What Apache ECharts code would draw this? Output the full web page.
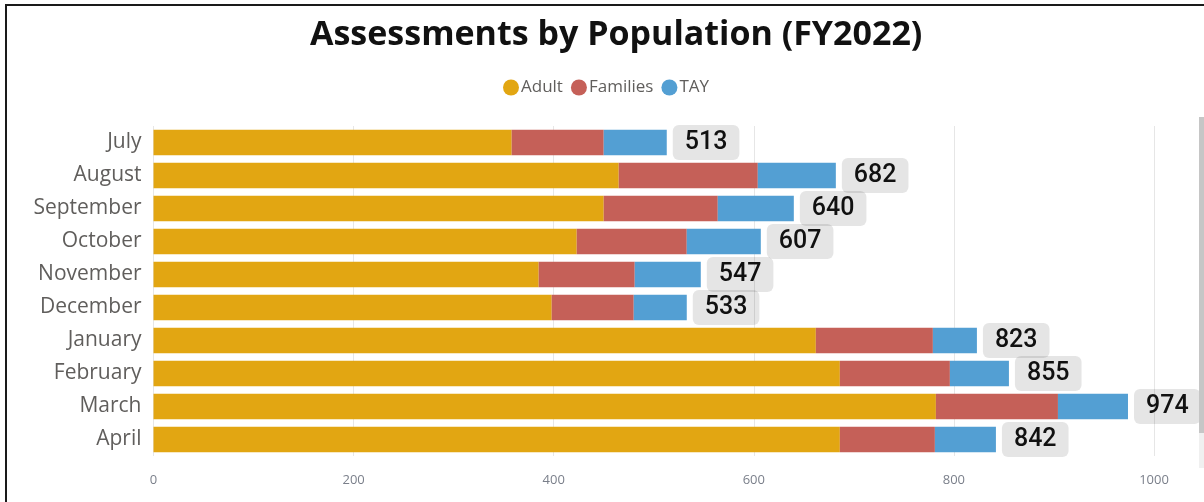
<!DOCTYPE html>
<html>
<head>
<meta charset="utf-8">
<script src="https://cdn.jsdelivr.net/npm/echarts@6/dist/echarts.min.js"></script>
<style>html,body{margin:0;padding:0;background:#fff}#c{width:1204px;height:502px}</style>
</head>
<body>
<div id="c"></div>
<script>
const months = ['July','August','September','October','November','December','January','February','March','April'];
const adult    = [358, 465, 450, 423, 385, 398, 662, 686, 782, 686];
const families = [ 92, 139, 114, 110,  96,  82, 117, 110, 122,  95];
const tay      = [ 63,  78,  76,  74,  66,  53,  44,  59,  70,  61];
const totals   = [513, 682, 640, 607, 547, 533, 823, 855, 974, 842];
const xTicks = [0, 200, 400, 600, 800, 1000];

const chart = echarts.init(document.getElementById('c'), null, {renderer: 'canvas'});
chart.setOption({
  animation: false,
  title: {
    text: 'Assessments by Population (FY2022)',
    left: 305, top: 13,
    textStyle: {fontFamily: 'Open Sans', fontWeight: 'bold', fontSize: 34, color: '#111'}
  },
  legend: {
    top: 74, left: 498,
    icon: 'circle', itemWidth: 16, itemHeight: 16, itemGap: 8,
    textStyle: {fontFamily: 'Open Sans', fontSize: 17, color: '#605e5c', padding: [0,0,0,-3]},
    data: ['Adult','Families','TAY']
  },
  grid: {left: 153.5, right: 50, top: 126, bottom: 46, containLabel: false},
  xAxis: {
    type: 'value', min: 0, max: 1000, interval: 200,
    axisLine: {show: false}, axisTick: {show: false},
    splitLine: {lineStyle: {color: '#e6e6e6', width: 1}},
    axisLabel: {fontFamily: 'Open Sans', fontSize: 13, color: '#7a7f8a', margin: 18,
      formatter: v => xTicks.includes(v) ? String(v) : ''}
  },
  yAxis: {
    type: 'category', inverse: true, data: months,
    axisLine: {show: false}, axisTick: {show: false},
    axisLabel: {fontFamily: 'Open Sans', fontSize: 21, color: '#605e5c', margin: 12,
      padding: [5, 0, 0, 0]}
  },
  series: [
    {name: 'Adult', type: 'bar', stack: 't', data: adult, barCategoryGap: '22%',
      itemStyle: {color: '#E2A612'}},
    {name: 'Families', type: 'bar', stack: 't', data: families,
      itemStyle: {color: '#C56058'}},
    {name: 'TAY', type: 'bar', stack: 't', data: tay,
      itemStyle: {color: '#539FD3'},
      label: {
        show: true, position: 'right', distance: 6,
        formatter: p => String(totals[p.dataIndex]),
        fontFamily: 'Roboto', fontWeight: 500, fontSize: 25, color: '#111',
        backgroundColor: 'rgba(0,0,0,0.1)', borderRadius: 6,
        padding: [8, 12, 2, 12]
      }}
  ],
  graphic: [
    {type: 'rect', shape: {x: 6, y: 5, width: 1400, height: 700},
      style: {fill: 'none', stroke: '#1a1a1a', lineWidth: 2}, z: 100, silent: true},
    {type: 'rect', shape: {x: 1199, y: 117, width: 5, height: 316},
      style: {fill: '#c6c6c6'}, z: 100, silent: true},
    {type: 'rect', shape: {x: 1199, y: 433, width: 5, height: 35},
      style: {fill: '#f0f0f0'}, z: 100, silent: true}
  ]
});
</script>
</body>
</html>
